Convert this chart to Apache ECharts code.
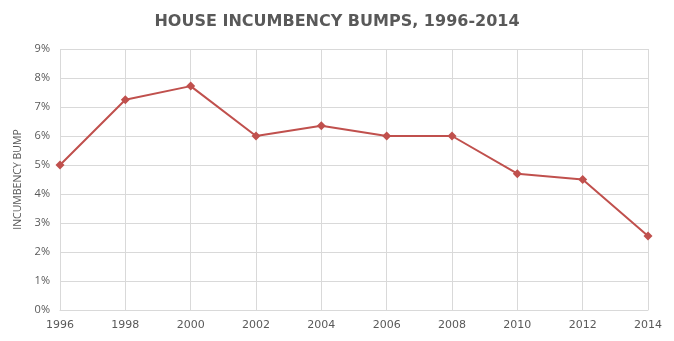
<!DOCTYPE html>
<html>
<head>
<meta charset="utf-8">
<script src="https://cdn.jsdelivr.net/npm/echarts@6/dist/echarts.min.js"></script>
<style>
  html, body { margin: 0; padding: 0; background: #fff; }
  #chart { width: 674px; height: 341px; }
</style>
</head>
<body>
<div id="chart"></div>
<script>
// Election years on the x axis
const years = ['1996', '1998', '2000', '2002', '2004', '2006', '2008', '2010', '2012', '2014'];
// Incumbency bump, percent
const bumpPct = [5.0, 7.25, 7.72, 6.0, 6.35, 6.0, 6.0, 4.7, 4.5, 2.55];
// Y axis range in percent
const yMin = 0, yMax = 9, yStep = 1;

const chart = echarts.init(document.getElementById('chart'), null, { renderer: 'canvas' });
chart.setOption({
  backgroundColor: '#ffffff',
  animation: false,
  title: {
    text: 'HOUSE INCUMBENCY BUMPS, 1996-2014',
    left: 'center',
    top: 9,
    textStyle: {
      fontFamily: 'DejaVu Sans',
      fontWeight: 'bold',
      fontSize: 16,
      color: '#595959'
    }
  },
  grid: { left: 60, right: 26, top: 49, bottom: 31, containLabel: false },
  xAxis: {
    type: 'category',
    data: years,
    boundaryGap: false,
    axisLine: { show: true, lineStyle: { color: '#d9d9d9', width: 1 } },
    axisTick: { show: false },
    splitLine: { show: true, lineStyle: { color: '#d9d9d9', width: 1 } },
    axisLabel: {
      margin: 10,
      fontFamily: 'DejaVu Sans',
      fontSize: 11,
      color: '#595959'
    }
  },
  yAxis: {
    type: 'value',
    min: yMin,
    max: yMax,
    interval: yStep,
    name: 'INCUMBENCY BUMP',
    nameLocation: 'middle',
    nameRotate: 90,
    nameGap: 36,
    nameTextStyle: { fontFamily: 'Open Sans', fontSize: 10.5, color: '#595959' },
    axisLine: { show: false },
    axisTick: { show: false },
    splitLine: { show: true, lineStyle: { color: '#d9d9d9', width: 1 } },
    axisLabel: {
      margin: 10,
      fontFamily: 'Open Sans',
      fontSize: 11,
      color: '#595959',
      formatter: v => v + '%'
    }
  },
  series: [{
    type: 'line',
    data: bumpPct,
    symbol: 'diamond',
    symbolSize: 9,
    lineStyle: { color: '#C0504D', width: 2 },
    itemStyle: { color: '#C0504D' }
  }]
});
</script>
</body>
</html>
